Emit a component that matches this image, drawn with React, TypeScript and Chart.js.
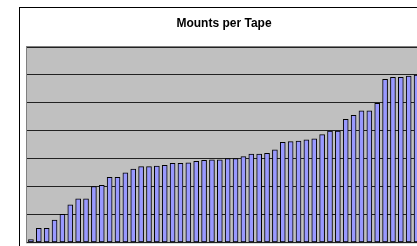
import React, { useEffect, useRef } from "react";
import { Chart, registerables } from "chart.js";

Chart.register(...registerables);

const titleText = "Mounts per Tape";
const tapes: string[] = Array.from({ length: 50 }, (_, i) => `T${i + 1}`);
const mounts: number[] = [
  1, 5, 5, 8, 10, 13.4, 15.6, 15.6, 20, 20.4,
  23.3, 23.3, 24.9, 26.2, 27.1, 27.1, 27.3, 27.6, 28.3, 28.3,
  28.5, 29.0, 29.4, 29.6, 29.6, 30.0, 30.0, 30.7, 31.6, 31.6,
  31.9, 33.1, 35.8, 36.1, 36.3, 36.7, 37.1, 38.6, 39.9, 39.9,
  44.1, 45.5, 47.1, 47.1, 49.8, 58.4, 59.1, 59.1, 59.6, 59.9,
];
const yMax = 70;
const yStep = 10;

export default function App() {
  const ref = useRef<HTMLCanvasElement | null>(null);
  useEffect(() => {
    if (!ref.current) return;
    const framePlugin = {
      id: "frame",
      beforeDraw(chart: any) {
        const { ctx, chartArea } = chart;
        ctx.save();
        ctx.fillStyle = "#ffffff";
        ctx.fillRect(0, 0, chart.width, chart.height);
        ctx.strokeStyle = "#000000";
        ctx.lineWidth = 1;
        ctx.strokeRect(19.5, 7.5, 600, 600);
        ctx.fillStyle = "#C0C0C0";
        ctx.fillRect(chartArea.left, chartArea.top, chartArea.right - chartArea.left, chartArea.bottom - chartArea.top);
        ctx.strokeStyle = "#808080";
        ctx.strokeRect(Math.round(chartArea.left) - 0.5, Math.round(chartArea.top) - 0.5, chartArea.right - chartArea.left + 1, chartArea.bottom - chartArea.top + 1);
        ctx.fillStyle = "#000000";
        ctx.font = "bold 12px 'Liberation Sans', Arial, sans-serif";
        ctx.textAlign = "center";
        ctx.textBaseline = "middle";
        ctx.fillText(titleText, 224, 24);
        ctx.restore();
      },
    };
    const chart = new Chart(ref.current, {
      type: "bar",
      data: {
        labels: tapes,
        datasets: [
          {
            data: mounts,
            backgroundColor: "#9999FF",
            borderColor: "#000000",
            borderWidth: 1,
            borderSkipped: false,
            barThickness: 5,
          },
        ],
      },
      options: {
        animation: false,
        responsive: false,
        devicePixelRatio: 1,
        layout: { padding: { left: 27, top: 47, right: 19.5, bottom: 17.7 } },
        plugins: { legend: { display: false }, title: { display: false }, tooltip: { enabled: false } },
        scales: {
          x: { display: false, offset: true },
          y: {
            min: 0,
            max: yMax,
            ticks: { stepSize: yStep, display: false },
            grid: { color: "#222222", lineWidth: 1, drawTicks: false },
            border: { display: false },
          },
        },
      },
      plugins: [framePlugin],
    });
    return () => chart.destroy();
  }, []);
  return (
    <div style={{ position: "fixed", left: 0, top: 0, width: 417, height: 246, overflow: "hidden", background: "#fff" }}>
      <canvas ref={ref} width={440} height={260} style={{ position: "absolute", left: 0, top: 0, width: 440, height: 260 }} />
    </div>
  );
}
